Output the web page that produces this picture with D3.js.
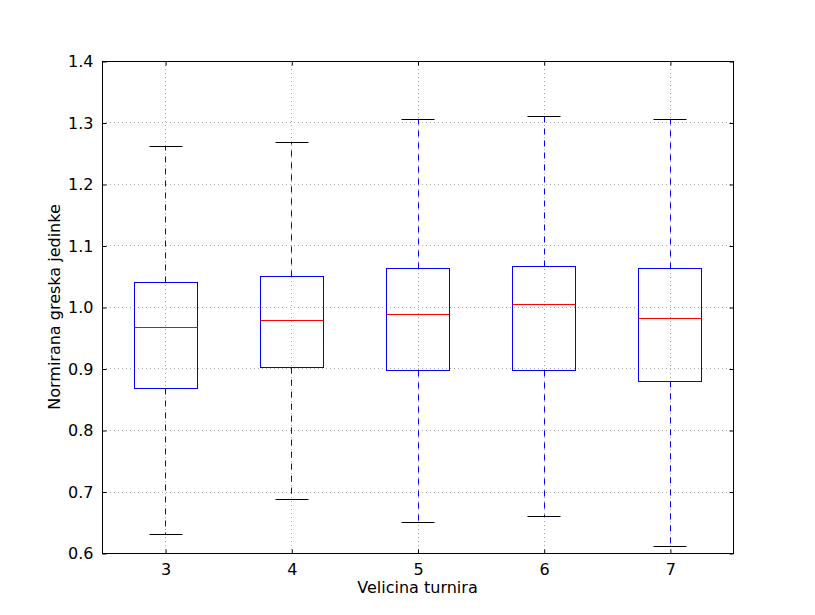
<!DOCTYPE html>
<html>
<head>
<meta charset="UTF-8">
<script src="https://d3js.org/d3.v7.min.js"></script>
<style>
body { margin: 0; background: #fff; }
text { font-family: "DejaVu Sans", sans-serif; }
</style>
</head>
<body>
<svg id="svg" width="815" height="615"></svg>
<script>
var categories = [3, 4, 5, 6, 7];
var q1 = [0.868, 0.902, 0.898, 0.898, 0.880];
var medians = [0.967, 0.979, 0.989, 1.005, 0.982];
var q3 = [1.041, 1.050, 1.063, 1.067, 1.063];
var whiskLo = [0.631, 0.688, 0.650, 0.660, 0.611];
var whiskHi = [1.262, 1.268, 1.306, 1.311, 1.306];
var yTicks = [0.6, 0.7, 0.8, 0.9, 1.0, 1.1, 1.2, 1.3, 1.4];

var svg = d3.select("svg");
var L = 102, R = 733, T = 61, B = 553;
var x0 = d3.scaleLinear().domain([2.5, 7.5]).range([L, R]);
var y0 = d3.scaleLinear().domain([0.6, 1.4]).range([B, T]);
// snap to pixel centres for crisp 1px lines
var x = v => Math.round(x0(v)) + 0.5;
var y = v => Math.round(y0(v)) + 0.5;

svg.append("rect").attr("x", 0).attr("y", 0).attr("width", 815).attr("height", 615).style("fill", "#fff");

// grid
svg.append("g").selectAll("line").data(categories).enter().append("line")
  .attr("x1", d => x(d)).attr("x2", d => x(d)).attr("y1", T).attr("y2", B)
  .style("stroke", "#aaa").style("stroke-dasharray", "1,3");
svg.append("g").selectAll("line").data(yTicks).enter().append("line")
  .attr("x1", L).attr("x2", R).attr("y1", d => y(d)).attr("y2", d => y(d))
  .style("stroke", "#aaa").style("stroke-dasharray", "1,3");

var idx = d3.range(categories.length);
var g = svg.append("g");
// whiskers
g.selectAll(".wl").data(idx).enter().append("line")
  .attr("x1", i => x(categories[i])).attr("x2", i => x(categories[i]))
  .attr("y1", i => y(q1[i])).attr("y2", i => y(whiskLo[i]))
  .style("stroke", "blue").style("stroke-dasharray", "6,6");
g.selectAll(".wh").data(idx).enter().append("line")
  .attr("x1", i => x(categories[i])).attr("x2", i => x(categories[i]))
  .attr("y1", i => y(q3[i])).attr("y2", i => y(whiskHi[i]))
  .style("stroke", "blue").style("stroke-dasharray", "6,6");
// caps
[whiskLo, whiskHi].forEach(function(arr) {
  g.selectAll(null).data(idx).enter().append("line")
    .attr("x1", i => x(categories[i] - 0.13)).attr("x2", i => x(categories[i] + 0.13))
    .attr("y1", i => y(arr[i])).attr("y2", i => y(arr[i]))
    .style("stroke", "black");
});
// boxes
g.selectAll("rect.box").data(idx).enter().append("rect")
  .attr("x", i => x(categories[i] - 0.25)).attr("width", i => x(categories[i] + 0.25) - x(categories[i] - 0.25))
  .attr("y", i => y(q3[i])).attr("height", i => y(q1[i]) - y(q3[i]))
  .style("fill", "none").style("stroke", "blue");
g.selectAll(".med").data(idx).enter().append("line")
  .attr("x1", i => x(categories[i] - 0.25)).attr("x2", i => x(categories[i] + 0.25))
  .attr("y1", i => y(medians[i])).attr("y2", i => y(medians[i]))
  .style("stroke", "red");

// frame
svg.append("rect").attr("x", L + 0.5).attr("y", T + 0.5).attr("width", R - L).attr("height", B - T)
  .style("fill", "none").style("stroke", "black");

// axes (inward ticks)
var xs = d3.scaleLinear().domain([2.5, 7.5]).range([L + 0.5, R + 0.5]);
var ys = d3.scaleLinear().domain([0.6, 1.4]).range([B + 0.5, T + 0.5]);
var xb = svg.append("g").attr("transform", "translate(0," + (B + 0.5) + ")")
  .call(d3.axisBottom(xs).tickValues(categories).tickSize(-4).tickPadding(10).tickFormat(d3.format("d")));
var xt = svg.append("g").attr("transform", "translate(0," + (T + 0.5) + ")")
  .call(d3.axisTop(xs).tickValues(categories).tickSize(-4).tickFormat(""));
var yl = svg.append("g").attr("transform", "translate(" + (L + 0.5) + ",0)")
  .call(d3.axisLeft(ys).tickValues(yTicks).tickSize(-4).tickPadding(9).tickFormat(d3.format(".1f")));
var yr = svg.append("g").attr("transform", "translate(" + (R + 0.5) + ",0)")
  .call(d3.axisRight(ys).tickValues(yTicks).tickSize(-4).tickFormat(""));
[xb, xt, yl, yr].forEach(function(a) {
  a.select(".domain").remove();
  a.selectAll("text").style("font-size", "16px").style("font-family", "DejaVu Sans").style("fill", "black");
});

svg.append("text").attr("x", (L + R) / 2).attr("y", 593).attr("text-anchor", "middle")
  .style("font-size", "16px").text("Velicina turnira");
svg.append("text").attr("transform", "translate(60," + ((T + B) / 2) + ") rotate(-90)")
  .attr("text-anchor", "middle").style("font-size", "16px").text("Normirana greska jedinke");
</script>
</body>
</html>
